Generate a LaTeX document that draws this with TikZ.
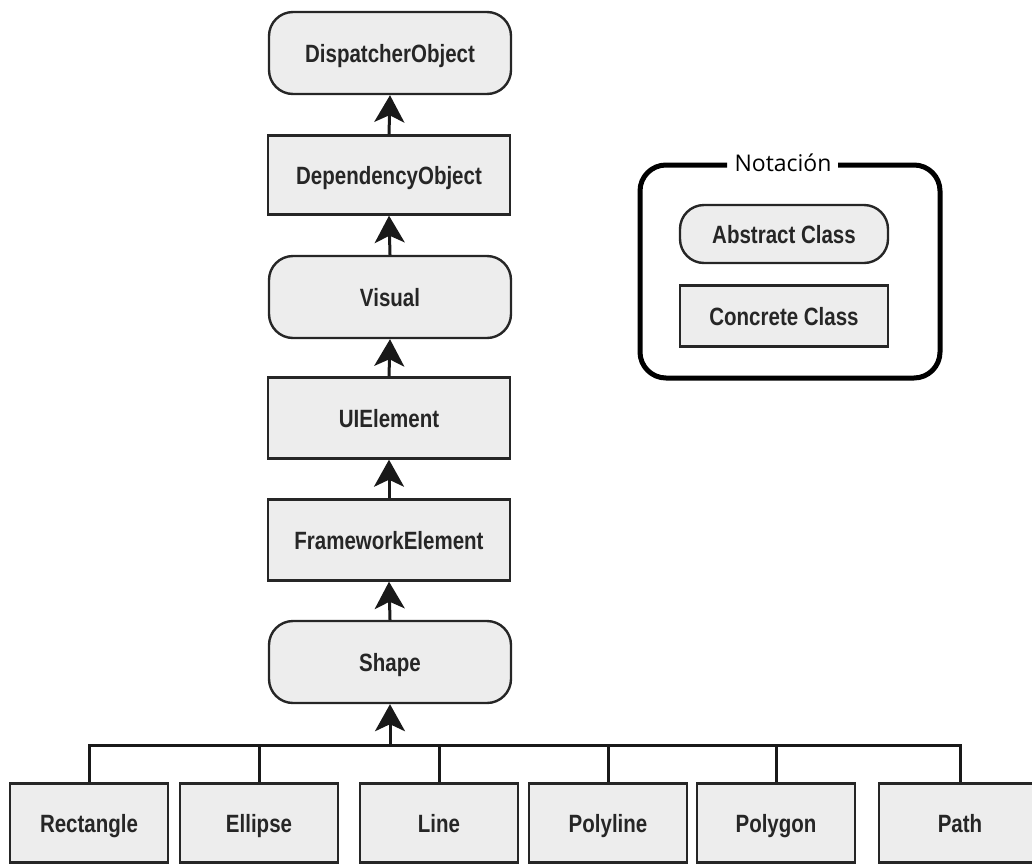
\documentclass[tikz,border=0pt]{standalone}
\usepackage{fontspec}
\setmainfont{Liberation Sans}
\newfontfamily\condfont[FakeStretch=0.82]{Liberation Sans}
\newfontfamily\notefont{Open Sans}
\usetikzlibrary{arrows.meta}
\definecolor{boxfill}{HTML}{EDEDED}
\begin{document}
\begin{tikzpicture}[x=1pt,y=-1pt,
  cls/.style={draw=black!85, line width=2.4pt, fill=boxfill, inner sep=0pt,
    text height=18pt, text depth=0pt,
    font=\condfont\bfseries\fontsize{25}{30}\selectfont, text=black!85},
  abstractbox/.style={cls, rounded corners=24pt},
  concretebox/.style={cls},
  conn/.style={draw=black!90, line width=3pt},
  inherit/.style={conn, -{Stealth[length=27pt,width=30pt,inset=7pt]}}]
\useasboundingbox (0,0) rectangle (1032,865);
% main column
\node[abstractbox, minimum width=242pt, minimum height=82pt] (disp) at (390,53) {DispatcherObject};
\node[concretebox, minimum width=242pt, minimum height=79pt] (dep) at (389,175) {DependencyObject};
\node[abstractbox, minimum width=242pt, minimum height=82pt] (vis) at (390,297) {Visual};
\node[concretebox, minimum width=242pt, minimum height=81pt] (uie) at (389,418) {UIElement};
\node[concretebox, minimum width=242pt, minimum height=81pt] (fw) at (389,540) {FrameworkElement};
\node[abstractbox, minimum width=242pt, minimum height=82pt] (shape) at (390,662) {Shape};
% bottom row
\node[concretebox, minimum width=158pt, minimum height=79pt] (rect) at (89,823) {Rectangle};
\node[concretebox, minimum width=158pt, minimum height=79pt] (ell) at (259,823) {Ellipse};
\node[concretebox, minimum width=158pt, minimum height=79pt] (line) at (439,823) {Line};
\node[concretebox, minimum width=158pt, minimum height=79pt] (polyl) at (608,823) {Polyline};
\node[concretebox, minimum width=158pt, minimum height=79pt] (polyg) at (776,823) {Polygon};
\node[concretebox, minimum width=162pt, minimum height=79pt] (path) at (960,823) {Path};
% arrows in column
\draw[inherit] (dep.north) -- (disp.south);
\draw[inherit] (vis.north) -- (dep.south);
\draw[inherit] (uie.north) -- (vis.south);
\draw[inherit] (fw.north) -- (uie.south);
\draw[inherit] (shape.north) -- (fw.south);
% bus
\coordinate (bus) at (390,745);
\draw[conn] (rect.north) |- (path.north |- bus) -- (path.north);
\draw[conn] (ell.north) -- (ell.north |- bus);
\draw[conn] (line.north) -- (line.north |- bus);
\draw[conn] (polyl.north) -- (polyl.north |- bus);
\draw[conn] (polyg.north) -- (polyg.north |- bus);
\draw[inherit] (bus) -- (shape.south);
% notation
\draw[line width=5pt, rounded corners=26pt] (727,165) -- (640,165) -- (640,378) -- (940,378) -- (940,165) -- (838,165);
\node[font=\notefont\fontsize{23}{28}\selectfont, inner sep=0pt] (nlabel) at (783,163) {Notación};
\node[abstractbox, minimum width=208pt, minimum height=58pt] (abs) at (784,234) {Abstract Class};
\node[concretebox, minimum width=208pt, minimum height=61pt] (conc) at (784,316) {Concrete Class};
\end{tikzpicture}
\end{document}
